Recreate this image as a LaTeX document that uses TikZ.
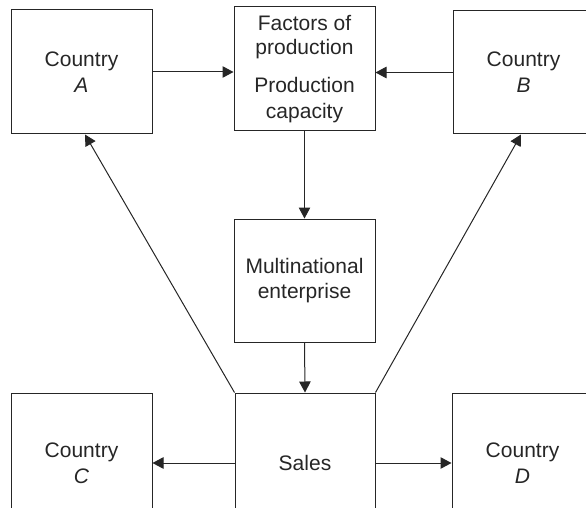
\documentclass[tikz,border=0pt]{standalone}
\usepackage{fontspec}
\setmainfont{Liberation Sans}
\usetikzlibrary{arrows.meta}
\begin{document}
\begin{tikzpicture}[x=1pt,y=-1pt,
  box/.style={draw=black!85, line width=1pt, inner sep=0pt, align=center,
    font=\fontsize{21}{26}\selectfont, text=black!85},
  arr/.style={draw=black!85, line width=1pt, -{Triangle[length=11pt,width=11.5pt]}}]
\useasboundingbox (0,0) rectangle (586,508);
\clip (0,0) rectangle (586,508);
\node[box, minimum width=141pt, minimum height=124pt] (A) at (81.5,72) {Country\\\textit{A}};
\node[box, minimum width=141pt, minimum height=124pt] (F) at (304.5,69) {Factors of\\[-2pt]production\\[12pt]Production\\capacity};
\node[box, minimum width=141pt, minimum height=123pt] (B) at (523.5,72.5) {Country\\\textit{B}};
\node[box, minimum width=141pt, minimum height=123pt] (M) at (304.5,280.5) {Multinational\\[-1pt]enterprise};
\node[box, minimum width=140pt, minimum height=140pt] (S) at (305,463) {Sales};
\node[box, minimum width=141pt, minimum height=140pt] (C) at (81.5,463) {Country\\\textit{C}};
\node[box, minimum width=141pt, minimum height=140pt] (D) at (522.5,463) {Country\\\textit{D}};
\draw[arr] (A.east) -- (A.east -| F.west);
\draw[arr] (B.west) -- (B.west -| F.east);
\draw[arr] (F.south) -- (M.north);
\draw[arr] (M.south) -- (S.north);
\draw[arr] (S.north west) -- ([xshift=3.5pt]A.south);
\draw[arr] (S.north east) -- ([xshift=-2.5pt]B.south);
\draw[arr] (S.west) -- (C.east);
\draw[arr] (S.east) -- (D.west);
\end{tikzpicture}
\end{document}
